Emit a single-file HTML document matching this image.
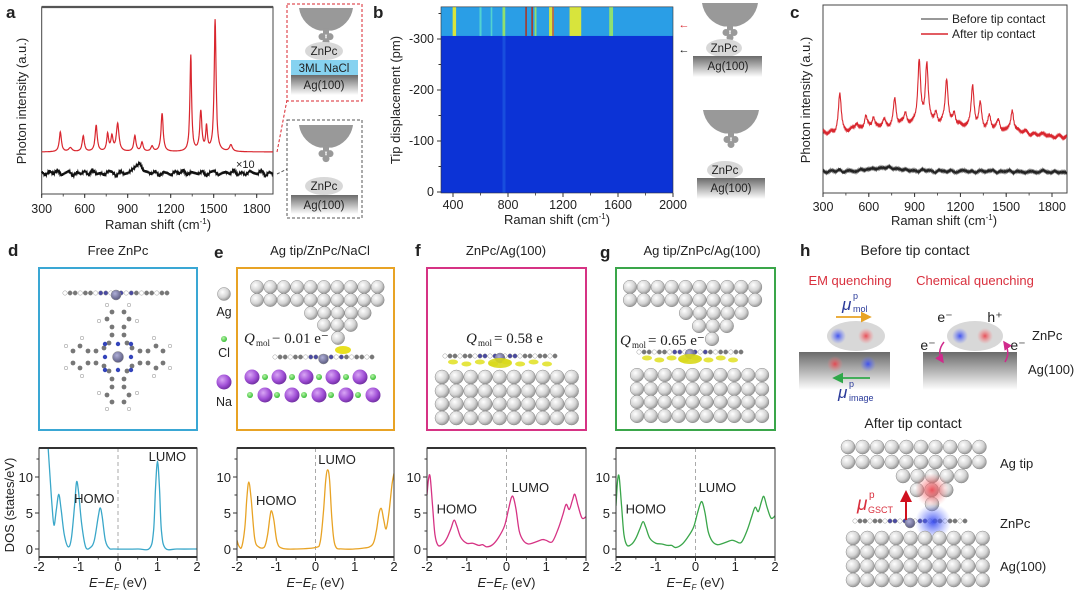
<!DOCTYPE html>
<html><head><meta charset="utf-8">
<style>
html,body{margin:0;padding:0;background:#fff;}
svg{display:block;font-family:"Liberation Sans",Arial,sans-serif;}
</style></head>
<body>
<svg id="fig" width="1080" height="597" viewBox="0 0 1080 597" xmlns="http://www.w3.org/2000/svg">
<defs>
<radialGradient id="ag" cx="0.38" cy="0.35" r="0.7"><stop offset="0" stop-color="#ffffff"/><stop offset="0.6" stop-color="#d4d4d4"/><stop offset="1" stop-color="#8e8e8e"/></radialGradient>
<radialGradient id="na" cx="0.38" cy="0.35" r="0.7"><stop offset="0" stop-color="#d9a6f5"/><stop offset="0.6" stop-color="#a04fd6"/><stop offset="1" stop-color="#6a2a9a"/></radialGradient>
<radialGradient id="cl" cx="0.4" cy="0.35" r="0.7"><stop offset="0" stop-color="#b6f5a6"/><stop offset="1" stop-color="#2eb82e"/></radialGradient>
<radialGradient id="zn" cx="0.4" cy="0.35" r="0.7"><stop offset="0" stop-color="#b0b0d8"/><stop offset="1" stop-color="#55557a"/></radialGradient>
<linearGradient id="slab" x1="0" y1="0" x2="0" y2="1"><stop offset="0" stop-color="#6a6a6a"/><stop offset="1" stop-color="#ffffff"/></linearGradient>
<radialGradient id="gblue"><stop offset="0" stop-color="#3a4df0" stop-opacity="0.95"/><stop offset="1" stop-color="#6a7cff" stop-opacity="0"/></radialGradient>
<radialGradient id="gred"><stop offset="0" stop-color="#e8404a" stop-opacity="0.9"/><stop offset="1" stop-color="#ff8080" stop-opacity="0"/></radialGradient>
<marker id="mo" markerWidth="6" markerHeight="6" refX="5" refY="3" orient="auto"><path d="M0,0 L6,3 L0,6 z" fill="#e8a325"/></marker>
<marker id="mg" markerWidth="6" markerHeight="6" refX="5" refY="3" orient="auto"><path d="M0,0 L6,3 L0,6 z" fill="#2fa84a"/></marker>
<marker id="mr" markerWidth="6" markerHeight="6" refX="5" refY="3" orient="auto"><path d="M0,0 L6,3 L0,6 z" fill="#d0101e"/></marker>
<marker id="mp" markerWidth="6" markerHeight="6" refX="5" refY="3" orient="auto"><path d="M0,0 L6,3 L0,6 z" fill="#d02a8c"/></marker>
</defs>
</svg>
<script>
// ---------------- data ----------------
// panel a: TERS spectrum on NaCl (red) peaks
const aShift=[430,500,590,680,760,790,830,950,1000,1070,1140,1340,1410,1450,1510,1620];
const aInt=[15,3,12,20,13,11,21,12,7,4,29,73,30,18,100,5];
const aWidth=[9,14,9,9,8,9,11,9,9,10,9,7,9,7,8,12];
// panel a: black (x10) spectrum noise samples, evenly spaced 300..1915
const aBlack=[1,-2,2,-1,3,-2,0,2,-3,1,-1,2,-2,3,-1,0,-2,2,1,-3,2,-1,0,3,6,9,2,1,-1,2,-3,1,0,-2,2,-1,3,-2,1,0,-1,2,-3,1,2,-2,0,1,-1,3,-2,1,-2,2,0,-1,3,-3,1,-1];
// panel b: heatmap bands in the contact region
const bShift=[410,600,680,770,930,975,1000,1110,1125,1290,1550];
const bInt=[0.75,0.35,0.3,0.55,1.0,0.95,0.6,0.75,0.9,0.8,0.6];
const bWidth=[25,15,12,20,8,10,14,22,6,85,28];
const bXTicks=[400,800,1200,1600,2000];
const bYTicks=[0,-100,-200,-300];
// panel c
const cShift=[410,520,580,630,700,770,840,930,980,1040,1110,1160,1280,1330,1390,1450,1540];
const cInt=[37,7,14,13,7,28,14,66,61,12,46,14,40,24,12,9,22];
const cBase=[0,2,5,7,7,5,2,-1,-4];        // baseline at 300,500,...,1900
const cRedNoise=[2,-2,1,-3,2,0,-2,3,-1,1,-2,2,-3,1,0,2,-2,1,-1,3,-2,0,2,-3,1,-1,2,0,-2,3,-1,1,-3,2,-1,0,2,-2,1,-3,2,-1,3,-2,0,1,-2,2,-1,3,-3,1,-2,2,-1,0,-3,2,-2,1];
const cBlack=[0,-2,1,-1,2,-2,1,0,-1,2,1,2,3,2,4,3,5,2,3,1,2,0,1,-1,2,0,1,-2,1,0,-1,1,-2,0,1,-1,0,-2,1,-1,0,1,-2,0,-1,1,-2,0,-1,-2,0,-1,-2,1,-1,-2,0,-2,-1,-2];
const abTicks=[300,600,900,1200,1500,1800];
// DOS panels d-g
const dX=[-1.78,-1.72,-1.67,-1.62,-1.56,-1.5,-1.44,-1.36,-1.26,-1.18,-1.1,-1.05,-1.0,-0.92,-0.82,-0.7,-0.6,-0.5,-0.45,-0.4,-0.32,-0.22,-0.1,0.5,0.8,0.9,0.95,1.0,1.05,1.1,1.2,1.5,2.0];
const dY=[15,10,6,3.3,5.5,7.6,5.5,2,0.3,1.5,6,9.3,8,3.5,0.3,0.2,1.2,4.5,5.7,4.5,1.2,0.1,0,0,0.1,2.5,8.5,12.2,8.5,2.5,0.1,0,0];
const eX=[-2,-1.95,-1.88,-1.8,-1.75,-1.7,-1.64,-1.55,-1.45,-1.3,-1.22,-1.16,-1.12,-1.06,-0.98,-0.85,-0.5,0,0.12,0.2,0.26,0.31,0.36,0.42,0.5,0.7,1.2,1.45,1.55,1.62,1.68,1.74,1.8,1.87,1.95,2.0];
const eY=[1.2,0.4,0.3,3,7,9.3,7,1.5,0.3,0.3,2,4.5,5.3,4,1,0.1,0,0.2,1,5,9.5,11,9.5,4,0.5,0,0.1,0.6,2.5,5,5.6,4,2.8,5,9,10.5];
const fX=[-2,-1.96,-1.92,-1.86,-1.8,-1.72,-1.6,-1.5,-1.4,-1.32,-1.25,-1.15,-1.0,-0.85,-0.7,-0.6,-0.5,-0.35,-0.2,-0.05,0.05,0.12,0.17,0.24,0.32,0.42,0.55,0.7,0.9,1.0,1.15,1.3,1.42,1.5,1.58,1.66,1.72,1.8,1.9,2.0];
const fY=[7.5,9.8,10,6,2,0.5,0.7,1.5,2.8,4,3.2,1.6,0.8,0.8,0.5,0.6,0.3,0.6,1.6,3.2,5.5,7.1,7.2,5.5,2.5,1.2,0.7,0.9,1.3,1.2,1.0,2.8,4.8,6.2,5.5,6.8,7.6,6,4.3,4.5];
const gX=[-2,-1.96,-1.92,-1.86,-1.8,-1.72,-1.6,-1.5,-1.4,-1.32,-1.25,-1.15,-1.0,-0.85,-0.7,-0.6,-0.5,-0.35,-0.2,-0.05,0.05,0.12,0.17,0.24,0.32,0.42,0.55,0.7,0.9,1.0,1.15,1.3,1.42,1.5,1.58,1.66,1.72,1.8,1.9,2.0];
const gY=[6,9.5,10,6,2,0.5,0.7,1.5,2.8,3.8,3,1.5,0.8,0.7,0.5,0.5,0.2,0.6,1.6,3,5,6.3,6.5,5,2.4,1.1,0.6,0.8,1.2,1.1,0.9,2.6,4.6,5.8,5.2,6.6,7.3,5.8,4.3,4.6];
const dosXTicks=[-2,-1,0,1,2];
const dosYTicks=[0,5,10];

// ---------------- helpers ----------------
const NS='http://www.w3.org/2000/svg';
const svg=document.getElementById('fig');
function mk(tag,attrs,name,parent){
  const e=document.createElementNS(NS,tag);
  for(const k in attrs)e.setAttribute(k,attrs[k]);
  
  
  (parent||svg).appendChild(e);return e;
}
function txt(x,y,s,name,o){
  o=o||{};
  const e=mk('text',{x:x,y:y,'font-size':o.fs||12,'text-anchor':o.a||'start',fill:o.c||'#222','font-weight':o.w||'normal'},name,o.p);
  if(o.rot)e.setAttribute('transform','rotate(-90 '+x+' '+y+')');
  if(o.ff)e.setAttribute('font-family',o.ff);
  if(o.st)e.setAttribute('font-style',o.st);
  e.textContent=s;return e;
}
function lin(d0,d1,r0,r1){return v=>r0+(v-d0)*(r1-r0)/(d1-d0);}
function interp(arr,x0,x1,x){const t=(x-x0)/(x1-x0)*(arr.length-1);const i=Math.max(0,Math.min(arr.length-2,Math.floor(t)));const f=t-i;return arr[i]*(1-f)+arr[i+1]*f;}
function spectrum(shift,ints,widths,x){let s=0;for(let i=0;i<shift.length;i++){const d=(x-shift[i])/widths[i];s+=ints[i]/(1+d*d);}return s;}
function crPath(pts){let d='M'+pts[0][0]+','+pts[0][1];for(let i=0;i<pts.length-1;i++){const p0=pts[Math.max(0,i-1)],p1=pts[i],p2=pts[i+1],p3=pts[Math.min(pts.length-1,i+2)];const c1x=p1[0]+(p2[0]-p0[0])/6,c1y=p1[1]+(p2[1]-p0[1])/6,c2x=p2[0]-(p3[0]-p1[0])/6,c2y=p2[1]-(p3[1]-p1[1])/6;d+=' C'+c1x.toFixed(2)+','+c1y.toFixed(2)+' '+c2x.toFixed(2)+','+c2y.toFixed(2)+' '+p2[0].toFixed(2)+','+p2[1].toFixed(2);}return d;}
function atom(cx,cy,r,fill,name,g){return mk('circle',{cx:cx,cy:cy,r:r,fill:fill,stroke:'#8a8a8a','stroke-width':0.5},name,g);}
function atomRow(x0,y,n,dx,r,name,g){for(let i=0;i<n;i++)atom(x0+i*dx,y,r,'url(#ag)',name,g);}
function xAxisTicks(g,sx,ticks,y,minorStep,lo,hi,name){
  for(const t of ticks){mk('line',{x1:sx(t),x2:sx(t),y1:y,y2:y+4,stroke:'#333','stroke-width':1},name+'-tick',g);}
  if(minorStep){for(let v=lo;v<=hi+1e-9;v+=minorStep){mk('line',{x1:sx(v),x2:sx(v),y1:y,y2:y+2.5,stroke:'#333','stroke-width':0.8},name+'-minor-tick',g);}}
}
function tip(cx,top,w,name,g){
  const h=w*0.42;
  mk('path',{d:'M'+(cx-w/2)+','+top+' L'+(cx+w/2)+','+top+' A'+(w/2)+','+(w/2)+' 0 0 1 '+(cx+6)+','+(top+h)+' L'+(cx-6)+','+(top+h)+' A'+(w/2)+','+(w/2)+' 0 0 1 '+(cx-w/2)+','+top+' Z',fill:'#999'},name,g);
  mk('rect',{x:cx-3,y:top+h-2,width:6,height:6,fill:'#999'},name+'-neck',g);
  mk('circle',{cx:cx-4,cy:top+h+6,r:3.5,fill:'#999'},name+'-bump',g);
  mk('circle',{cx:cx+4,cy:top+h+6,r:3.5,fill:'#999'},name+'-bump',g);
  mk('circle',{cx:cx,cy:top+h+11,r:3.5,fill:'#999'},name+'-bump',g);
}
function blob(cx,cy,rx,ry,name,g){mk('ellipse',{cx:cx,cy:cy,rx:rx,ry:ry,fill:'#d8d8d8'},name,g);}
function agRect(x,y,w,h,name,g){mk('rect',{x:x,y:y,width:w,height:h,fill:'url(#slab)'},name,g);}

// ---------------- panel a ----------------
(function(){
  const g=mk('g',{},'panel-a');
  txt(6,18,'a','panel-a-label',{fs:17,w:'bold',p:g});
  const X0=41.7,X1=273,Y0=7,Y1=194;
  const sx=lin(300,1800,41.7,256.7);
  mk('rect',{x:X0,y:Y0,width:X1-X0,height:Y1-Y0,fill:'none',stroke:'#444','stroke-width':1},'plot-a-frame',g);
  mk('line',{x1:X0,x2:X1,y1:Y0,y2:Y0,stroke:'#555','stroke-width':2.2},'plot-a-top',g);
  xAxisTicks(g,sx,abTicks,Y1,150,300,1900,'a-x');
  abTicks.forEach(t=>txt(sx(t),213,String(t),'a-x-tick-label',{fs:12.5,a:'middle',p:g}));
  const tt=txt(158,229,'Raman shift (cm','a-x-axis-title',{fs:13,a:'middle',p:g});
  const sp=document.createElementNS(NS,'tspan');sp.setAttribute('font-size','8');sp.setAttribute('dy','-5');sp.textContent='-1';tt.appendChild(sp);
  const sp2=document.createElementNS(NS,'tspan');sp2.setAttribute('dy','5');sp2.textContent=')';tt.appendChild(sp2);
  txt(26,101,'Photon intensity (a.u.)','a-y-axis-title',{fs:13,a:'middle',rot:1,p:g});
  const sy=lin(0,100,152,20);
  let pts=[];for(let x=300;x<=1915;x+=2)pts.push(sx(x).toFixed(1)+','+sy(spectrum(aShift,aInt,aWidth,x)).toFixed(1));
  mk('polyline',{points:pts.join(' '),fill:'none',stroke:'#d9262e','stroke-width':1.2},'red-spectrum-nacl',g);
  pts=[];for(let x=300;x<=1915;x+=4)pts.push(sx(x).toFixed(1)+','+(173-interp(aBlack,300,1915,x)*1.1+((x/4)%2?1.2:-1.2)).toFixed(1));
  mk('polyline',{points:pts.join(' '),fill:'none',stroke:'#111','stroke-width':1.3},'black-spectrum-ag',g);
  txt(236,168,'×10','scale-factor-label',{fs:11,p:g});
  // schematics
  mk('rect',{x:287,y:4,width:75,height:97,fill:'none',stroke:'#d9262e','stroke-width':1,'stroke-dasharray':'3,2'},'nacl-schematic-box',g);
  mk('rect',{x:287,y:120,width:75,height:98,fill:'none',stroke:'#555','stroke-width':1,'stroke-dasharray':'3,2'},'ag-schematic-box',g);
  mk('line',{x1:277,y1:152,x2:287,y2:100,stroke:'#d9262e','stroke-dasharray':'3,2'},'connector-red',g);
  mk('line',{x1:277,y1:174,x2:287,y2:169,stroke:'#555','stroke-dasharray':'3,2'},'connector-black',g);
  tip(326,8,54,'tip-a1',g);
  blob(324,51,19,9,'znpc-a1',g);txt(324,55,'ZnPc','znpc-label',{fs:11.5,a:'middle',p:g});
  mk('rect',{x:291,y:60,width:67,height:15,fill:'#86d2f0'},'nacl-layer',g);txt(324,72,'3ML NaCl','nacl-label',{fs:11.5,a:'middle',p:g});
  agRect(291,75,67,20,'ag-substrate-a1',g);txt(324,89,'Ag(100)','ag-label',{fs:11.5,a:'middle',p:g});
  tip(326,125,54,'tip-a2',g);
  blob(324,186,19,9,'znpc-a2',g);txt(324,190,'ZnPc','znpc-label',{fs:11.5,a:'middle',p:g});
  agRect(291,195,67,19,'ag-substrate-a2',g);txt(324,209,'Ag(100)','ag-label',{fs:11.5,a:'middle',p:g});
})();

// ---------------- panel b ----------------
(function(){
  const g=mk('g',{},'panel-b');
  txt(373,18,'b','panel-b-label',{fs:17,w:'bold',p:g});
  const X0=441,X1=673;
  const sx=lin(400,2000,453,673), sy=lin(0,-300,192,39);
  const yTop=sy(-363), yBand=sy(-306);
  mk('rect',{x:X0,y:yTop,width:X1-X0,height:193-yTop,fill:'#0c33d6'},'heatmap-background',g);
  mk('rect',{x:X0,y:yTop,width:X1-X0,height:yBand-yTop,fill:'#2a9ee6'},'heatmap-contact-band',g);
  mk('rect',{x:sx(760),y:yBand,width:3,height:193-yBand,fill:'#1b55e0',opacity:0.8},'heatmap-faint-line',g);
  function col(v){if(v>0.92)return '#b0301c';if(v>0.85)return '#d8642a';if(v>0.7)return '#d8e43c';if(v>0.5)return '#8fe070';return '#52d2d0';}
  for(let i=0;i<bShift.length;i++){
    mk('rect',{x:sx(bShift[i]-bWidth[i]/2),y:yTop,width:Math.max(1.5,bWidth[i]*0.1375),height:yBand-yTop,fill:col(bInt[i])},'heatmap-band',g);
  }
  mk('rect',{x:X0,y:yTop,width:X1-X0,height:193-yTop,fill:'none',stroke:'#333','stroke-width':0.6},'heatmap-frame',g);
  xAxisTicks(g,sx,bXTicks,193,200,400,2000,'b-x');
  bXTicks.forEach(t=>txt(sx(t),209,String(t),'b-x-tick-label',{fs:12.5,a:'middle',p:g}));
  bYTicks.forEach(t=>{mk('line',{x1:X0-4,x2:X0,y1:sy(t),y2:sy(t),stroke:'#333'},'b-y-tick',g);txt(434,sy(t)+4,String(t),'b-y-tick-label',{fs:12.5,a:'end',p:g});});
  [-50,-150,-250,-350].forEach(t=>mk('line',{x1:X0-2.5,x2:X0,y1:sy(t),y2:sy(t),stroke:'#333'},'b-y-minor-tick',g));
  const tt=txt(557,224,'Raman shift (cm','b-x-axis-title',{fs:13,a:'middle',p:g});
  const sp=document.createElementNS(NS,'tspan');sp.setAttribute('font-size','8');sp.setAttribute('dy','-5');sp.textContent='-1';tt.appendChild(sp);
  const sp2=document.createElementNS(NS,'tspan');sp2.setAttribute('dy','5');sp2.textContent=')';tt.appendChild(sp2);
  txt(400,100,'Tip displacement (pm)','b-y-axis-title',{fs:13,a:'middle',rot:1,p:g});
  txt(684,28,'←','contact-arrow-red',{fs:11,c:'#d9262e',a:'middle',p:g});
  txt(684,53,'←','contact-arrow-black',{fs:11,c:'#111',a:'middle',p:g});
  tip(730,3,56,'tip-b1',g);
  blob(724,48,18,9,'znpc-b1',g);txt(724,52,'ZnPc','znpc-label',{fs:11.5,a:'middle',p:g});
  agRect(693,56,69,21,'ag-substrate-b1',g);txt(728,70,'Ag(100)','ag-label',{fs:11.5,a:'middle',p:g});
  tip(731,110,56,'tip-b2',g);
  blob(725,170,18,9,'znpc-b2',g);txt(725,174,'ZnPc','znpc-label',{fs:11.5,a:'middle',p:g});
  agRect(697,178,68,21,'ag-substrate-b2',g);txt(731,192,'Ag(100)','ag-label',{fs:11.5,a:'middle',p:g});
})();

// ---------------- panel c ----------------
(function(){
  const g=mk('g',{},'panel-c');
  txt(790,18,'c','panel-c-label',{fs:17,w:'bold',p:g});
  const X0=823,X1=1067,Y0=5,Y1=193;
  const sx=lin(300,1800,823,1052);
  mk('rect',{x:X0,y:Y0,width:X1-X0,height:Y1-Y0,fill:'none',stroke:'#444','stroke-width':1},'plot-c-frame',g);
  xAxisTicks(g,sx,abTicks,Y1,150,300,1900,'c-x');
  abTicks.forEach(t=>txt(sx(t),211,String(t),'c-x-tick-label',{fs:12.5,a:'middle',p:g}));
  const tt=txt(944,225,'Raman shift (cm','c-x-axis-title',{fs:13,a:'middle',p:g});
  const sp=document.createElementNS(NS,'tspan');sp.setAttribute('font-size','8');sp.setAttribute('dy','-5');sp.textContent='-1';tt.appendChild(sp);
  const sp2=document.createElementNS(NS,'tspan');sp2.setAttribute('dy','5');sp2.textContent=')';tt.appendChild(sp2);
  txt(810,100,'Photon intensity (a.u.)','c-y-axis-title',{fs:13,a:'middle',rot:1,p:g});
  let pts=[];for(let x=300;x<=1898;x+=3){const v=interp(cBase,300,1900,x)+spectrum(cShift,cInt,cShift.map(()=>11),x)+interp(cRedNoise,300,1900,x)*0.9+((x/3)%2?0.8:-0.8);pts.push(sx(x).toFixed(1)+','+(133-v).toFixed(1));}
  mk('polyline',{points:pts.join(' '),fill:'none',stroke:'#d9262e','stroke-width':1.1},'after-contact-spectrum',g);
  pts=[];for(let x=300;x<=1898;x+=4)pts.push(sx(x).toFixed(1)+','+(171-interp(cBlack,300,1900,x)*0.9+((x/4)%2?1:-1)).toFixed(1));
  mk('polyline',{points:pts.join(' '),fill:'none',stroke:'#222','stroke-width':1.1},'before-contact-spectrum',g);
  mk('line',{x1:921,x2:948,y1:19,y2:19,stroke:'#777','stroke-width':1.5},'legend-before-line',g);
  txt(952,23,'Before tip contact','legend-before-label',{fs:12,p:g});
  mk('line',{x1:921,x2:948,y1:34,y2:34,stroke:'#d9262e','stroke-width':1.5},'legend-after-line',g);
  txt(952,38,'After tip contact','legend-after-label',{fs:12,p:g});
})();

// ---------------- row 2 titles ----------------
txt(8,256,'d','panel-d-label',{fs:17,w:'bold'});
txt(118,255,'Free ZnPc','panel-d-title',{fs:13,a:'middle'});
txt(214,258,'e','panel-e-label',{fs:17,w:'bold'});
txt(320,255,'Ag tip/ZnPc/NaCl','panel-e-title',{fs:13,a:'middle'});
txt(415,256,'f','panel-f-label',{fs:17,w:'bold'});
txt(506,255,'ZnPc/Ag(100)','panel-f-title',{fs:13,a:'middle'});
txt(600,258,'g','panel-g-label',{fs:17,w:'bold'});
txt(702,255,'Ag tip/ZnPc/Ag(100)','panel-g-title',{fs:13,a:'middle'});
txt(800,256,'h','panel-h-label',{fs:17,w:'bold'});
txt(915,255,'Before tip contact','panel-h-title',{fs:14,a:'middle'});

// ---------------- structure boxes ----------------
const boxes=[[39,197,'#3aa7d4','structure-box-d'],[237,394,'#e8a325','structure-box-e'],[427,586,'#d63384','structure-box-f'],[616,775,'#3aa64a','structure-box-g']];
boxes.forEach(b=>mk('rect',{x:b[0],y:268,width:b[1]-b[0],height:162,fill:'none',stroke:b[2],'stroke-width':2},b[3]));

function molecule(x0,x1,y,g,charge){
  const n=Math.round((x1-x0)/5);
  for(let i=0;i<=n;i++){const x=x0+i*(x1-x0)/n;const c=(i%3===0)?'#fff':((Math.abs(i-n/2)<n*0.2)?'#4a4aa0':'#777');mk('circle',{cx:x,cy:y,r:2.2,fill:c,stroke:'#888','stroke-width':0.4},'molecule-atom',g);}
  atom((x0+x1)/2,y+2,5,'url(#zn)','zn-atom',g);
  if(charge){for(let i=0;i<8;i++){mk('ellipse',{cx:x0+8+i*(x1-x0-16)/7,cy:y+6+(i%2)*2,rx:5,ry:2.5,fill:'#e0e020',opacity:0.85},'charge-density',g);}
    mk('ellipse',{cx:(x0+x1)/2,cy:y+7,rx:12,ry:5,fill:'#d8d81c',opacity:0.9},'charge-density',g);}
}
// panel d structure
(function(){
  const g=mk('g',{},'free-znpc-structure');
  molecule(65,167,293,g,false);
  const cx=118,cy=357;
  atom(cx,cy,5.5,'url(#zn)','zn-atom',g);
  [[0,-1],[1,0],[0,1],[-1,0]].forEach(d=>{
    const px=-d[1],py=d[0];
    mk('circle',{cx:cx+d[0]*13,cy:cy+d[1]*13,r:2.2,fill:'#3344bb'},'n-atom',g);
    [[14,-9],[14,9],[22,-6],[22,6]].forEach(p=>mk('circle',{cx:cx+d[0]*p[0]+px*p[1],cy:cy+d[1]*p[0]+py*p[1],r:2.4,fill:'#777'},'c-atom',g));
    [[30,-6],[30,6],[38,-11],[38,11],[45,-6],[45,6]].forEach(p=>mk('circle',{cx:cx+d[0]*p[0]+px*p[1],cy:cy+d[1]*p[0]+py*p[1],r:2.4,fill:'#777'},'c-atom',g));
    [[36,-19],[36,19],[52,-11],[52,11]].forEach(p=>mk('circle',{cx:cx+d[0]*p[0]+px*p[1],cy:cy+d[1]*p[0]+py*p[1],r:1.8,fill:'#fff',stroke:'#888','stroke-width':0.5},'h-atom',g));
  });
  [[1,1],[1,-1],[-1,1],[-1,-1]].forEach(d=>mk('circle',{cx:cx+d[0]*13,cy:cy+d[1]*13,r:2.2,fill:'#3344bb'},'n-atom',g));
})();
// panel e structure
(function(){
  const g=mk('g',{},'ag-tip-nacl-structure');
  atom(224,294,6.5,'url(#ag)','legend-ag-atom',g);txt(224,316,'Ag','legend-ag-label',{fs:12.5,a:'middle',p:g});
  mk('circle',{cx:224,cy:339,r:3,fill:'url(#cl)'},'legend-cl-atom',g);txt(224,357,'Cl','legend-cl-label',{fs:12.5,a:'middle',p:g});
  mk('circle',{cx:224,cy:382,r:7.5,fill:'url(#na)'},'legend-na-atom',g);txt(224,406,'Na','legend-na-label',{fs:12.5,a:'middle',p:g});
  atomRow(257,287,10,13.4,6.6,'tip-ag-atom',g);atomRow(257,300,10,13.4,6.6,'tip-ag-atom',g);
  atomRow(311,313,5,13.4,6.6,'tip-ag-atom',g);atomRow(324,325,3,13.4,6.6,'tip-ag-atom',g);atom(338,338,6.6,'url(#ag)','tip-apex-atom',g);
  mk('ellipse',{cx:343,cy:350,rx:8,ry:4,fill:'#e8e020'},'charge-density',g);
  molecule(275,372,357,g,false);
  for(let i=0;i<5;i++){mk('circle',{cx:252+i*27,cy:377,r:7.5,fill:'url(#na)'},'na-atom',g);mk('circle',{cx:265+i*27,cy:377,r:3,fill:'url(#cl)'},'cl-atom',g);}
  for(let i=0;i<5;i++){mk('circle',{cx:250+i*27,cy:395,r:3,fill:'url(#cl)'},'cl-atom',g);mk('circle',{cx:265+i*27,cy:395,r:7.5,fill:'url(#na)'},'na-atom',g);}
  const q=txt(244,343,'Q','charge-label',{fs:15,ff:'"Liberation Serif",serif',st:'italic',p:g});
  txt(256,346,'mol','charge-label-sub',{fs:9,ff:'"Liberation Serif",serif',p:g});
  txt(272,343,'− 0.01 e⁻','charge-label-value',{fs:15,ff:'"Liberation Serif",serif',p:g});
})();
// panel f structure
(function(){
  const g=mk('g',{},'znpc-ag-structure');
  [377,391,404,418].forEach(y=>atomRow(442,y,10,14.4,7,'substrate-ag-atom',g));
  molecule(445,555,356,g,true);
  txt(466,343,'Q','charge-label',{fs:15,ff:'"Liberation Serif",serif',st:'italic',p:g});
  txt(478,346,'mol','charge-label-sub',{fs:9,ff:'"Liberation Serif",serif',p:g});
  txt(494,343,'= 0.58 e','charge-label-value',{fs:15,ff:'"Liberation Serif",serif',p:g});
})();
// panel g structure
(function(){
  const g=mk('g',{},'ag-tip-znpc-ag-structure');
  atomRow(630,287,10,13.9,6.8,'tip-ag-atom',g);atomRow(630,300,10,13.9,6.8,'tip-ag-atom',g);
  atomRow(686,313,5,13.9,6.8,'tip-ag-atom',g);atomRow(699,326,3,13.9,6.8,'tip-ag-atom',g);atom(712,339,6.8,'url(#ag)','tip-apex-atom',g);
  molecule(639,741,352,g,true);
  [375,389,402,416].forEach(y=>atomRow(637,y,10,13.9,6.8,'substrate-ag-atom',g));
  txt(620,345,'Q','charge-label',{fs:15,ff:'"Liberation Serif",serif',st:'italic',p:g});
  txt(632,348,'mol','charge-label-sub',{fs:9,ff:'"Liberation Serif",serif',p:g});
  txt(648,345,'= 0.65 e⁻','charge-label-value',{fs:15,ff:'"Liberation Serif",serif',p:g});
})();

// ---------------- DOS plots ----------------
function dosPlot(x0,x1,xs,ys,color,name,homo,lumo,showYTitle){
  const g=mk('g',{},name);
  const Y0=448,Y1=557;
  const sx=lin(-2,2,x0,x1), sy=lin(0,10,549,477);
  const cp=mk('clipPath',{id:name+'-clip'},name+'-clip',g);
  mk('rect',{x:x0,y:Y0,width:x1-x0,height:Y1-Y0},name+'-clip-rect',cp);
  mk('line',{x1:sx(0),x2:sx(0),y1:Y0,y2:Y1,stroke:'#aaa','stroke-dasharray':'4,3','stroke-width':1},name+'-fermi-line',g);
  const pts=xs.map((x,i)=>[sx(x),sy(ys[i])]);
  mk('path',{d:crPath(pts),fill:'none',stroke:color,'stroke-width':1.3,'clip-path':'url(#'+name+'-clip)'},name+'-curve',g);
  mk('rect',{x:x0,y:Y0,width:x1-x0,height:Y1-Y0,fill:'none',stroke:'#333','stroke-width':1},name+'-frame',g);
  mk('line',{x1:x0,x2:x1,y1:Y0,y2:Y0,stroke:'#333','stroke-width':2},name+'-top-edge',g);
  mk('line',{x1:x0,x2:x1,y1:Y1,y2:Y1,stroke:'#333','stroke-width':2},name+'-bottom-edge',g);
  xAxisTicks(g,sx,dosXTicks,Y1,0.5,-2,2,name+'-x');
  dosXTicks.forEach(t=>txt(sx(t),571,String(t),name+'-x-tick-label',{fs:13,a:'middle',p:g}));
  dosYTicks.forEach(t=>{mk('line',{x1:x0-4,x2:x0,y1:sy(t),y2:sy(t),stroke:'#333'},name+'-y-tick',g);txt(x0-6,sy(t)+5,String(t),name+'-y-tick-label',{fs:13,a:'end',p:g});});
  [2.5,7.5,12.5].forEach(t=>mk('line',{x1:x0-2.5,x2:x0,y1:sy(t),y2:sy(t),stroke:'#333'},name+'-y-minor-tick',g));
  const tt=txt((x0+x1)/2,587,'','x-axis-title',{fs:13,a:'middle',p:g});
  tt.innerHTML='<tspan font-style="italic">E</tspan>−<tspan font-style="italic">E</tspan><tspan font-size="8" dy="3" font-style="italic">F</tspan><tspan dy="-3"> (eV)</tspan>';
  txt(sx(homo[0]),sy(homo[1]),'HOMO',name+'-homo-label',{fs:13,a:'middle',p:g});
  txt(sx(lumo[0]),sy(lumo[1]),'LUMO',name+'-lumo-label',{fs:13,a:'middle',p:g});
  if(showYTitle)txt(14,505,'DOS (states/eV)','dos-y-axis-title',{fs:13,a:'middle',rot:1,p:g});
}
dosPlot(39,197,dX,dY,'#3aa7c9','dos-d',[-0.6,6.4],[1.25,12.2],true);
dosPlot(237,394,eX,eY,'#e8a325','dos-e',[-1.0,6.1],[0.55,11.8]);
dosPlot(427,586,fX,fY,'#d63384','dos-f',[-1.25,4.9],[0.6,7.9]);
dosPlot(616,775,gX,gY,'#3aa64a','dos-g',[-1.25,4.9],[0.55,7.9]);

// ---------------- panel h ----------------
(function(){
  const g=mk('g',{},'panel-h');
  txt(850,285,'EM quenching','em-quenching-label',{fs:13,a:'middle',c:'#d9303e',p:g});
  txt(975,285,'Chemical quenching','chemical-quenching-label',{fs:13,a:'middle',c:'#d9303e',p:g});
  agRect(799,352,91,38,'ag-slab-em',g);
  blob(856,336,29,15,'znpc-em',g);
  mk('circle',{cx:838,cy:336,r:8,fill:'url(#gblue)'},'dipole-negative',g);
  mk('circle',{cx:866,cy:336,r:8,fill:'url(#gred)'},'dipole-positive',g);
  mk('circle',{cx:835,cy:364,r:8,fill:'url(#gred)'},'image-positive',g);
  mk('circle',{cx:868,cy:364,r:8,fill:'url(#gblue)'},'image-negative',g);
  mk('line',{x1:836,y1:317,x2:870,y2:317,stroke:'#e8a325','stroke-width':1.8,'marker-end':'url(#mo)'},'mu-mol-arrow',g);
  mk('line',{x1:870,y1:378,x2:834,y2:378,stroke:'#2fa84a','stroke-width':1.8,'marker-end':'url(#mg)'},'mu-image-arrow',g);
  const m1=txt(842,310,'μ','mu-mol-label',{fs:17,st:'italic',c:'#2a3a9a',p:g});
  txt(853,299,'p','mu-mol-sup',{fs:9,c:'#2a3a9a',p:g});txt(853,312,'mol','mu-mol-sub',{fs:9,c:'#2a3a9a',p:g});
  txt(838,398,'μ','mu-image-label',{fs:17,st:'italic',c:'#2a3a9a',p:g});
  txt(849,387,'p','mu-image-sup',{fs:9,c:'#2a3a9a',p:g});txt(849,401,'image','mu-image-sub',{fs:9,c:'#2a3a9a',p:g});
  agRect(923,352,94,38,'ag-slab-chem',g);
  blob(975,336,28,15,'znpc-chem',g);
  mk('circle',{cx:960,cy:336,r:8,fill:'url(#gblue)'},'electron-density',g);
  mk('circle',{cx:985,cy:336,r:8,fill:'url(#gred)'},'hole-density',g);
  txt(945,322,'e⁻','electron-label',{fs:14,a:'middle',p:g});
  txt(995,322,'h⁺','hole-label',{fs:14,a:'middle',p:g});
  txt(928,350,'e⁻','electron-label-left',{fs:14,a:'middle',p:g});
  txt(1018,350,'e⁻','electron-label-right',{fs:14,a:'middle',p:g});
  mk('path',{d:'M944,342 Q936,352 943,362',fill:'none',stroke:'#d02a8c','stroke-width':1.5,'marker-end':'url(#mp)'},'transfer-arrow-left',g);
  mk('path',{d:'M1005,362 Q1011,352 1004,342',fill:'none',stroke:'#d02a8c','stroke-width':1.5,'marker-end':'url(#mp)'},'transfer-arrow-right',g);
  txt(1032,340,'ZnPc','znpc-label-h',{fs:13,p:g});
  txt(1028,374,'Ag(100)','ag100-label-h',{fs:13,p:g});
  txt(913,428,'After tip contact','after-contact-title',{fs:14,a:'middle',p:g});
  atomRow(848,447,10,14.6,7,'tip-ag-atom',g);atomRow(848,462,10,14.6,7,'tip-ag-atom',g);
  atomRow(903,476,5,14.6,7,'tip-ag-atom',g);atomRow(917,490,3,14.6,7,'tip-ag-atom',g);atom(932,504,7,'url(#ag)','tip-apex-atom',g);
  mk('circle',{cx:932,cy:490,r:17,fill:'url(#gred)'},'tip-positive-charge',g);
  molecule(855,965,521,g,false);
  mk('circle',{cx:933,cy:522,r:18,fill:'url(#gblue)'},'molecule-negative-charge',g);
  [538,552,566,580].forEach(y=>atomRow(853,y,10,14.4,7,'substrate-ag-atom',g));
  mk('line',{x1:906,y1:520,x2:906,y2:492,stroke:'#d0101e','stroke-width':2,'marker-end':'url(#mr)'},'gsct-dipole-arrow',g);
  txt(857,510,'μ','mu-gsct-label',{fs:19,st:'italic',c:'#d9303e',p:g});
  txt(869,498,'p','mu-gsct-sup',{fs:10,c:'#d9303e',p:g});txt(868,513,'GSCT','mu-gsct-sub',{fs:9,c:'#d9303e',p:g});
  txt(1000,468,'Ag tip','ag-tip-label',{fs:13,p:g});
  txt(1000,528,'ZnPc','znpc-label-after',{fs:13,p:g});
  txt(1000,571,'Ag(100)','ag100-label-after',{fs:13,p:g});
})();
</script>
</body></html>
